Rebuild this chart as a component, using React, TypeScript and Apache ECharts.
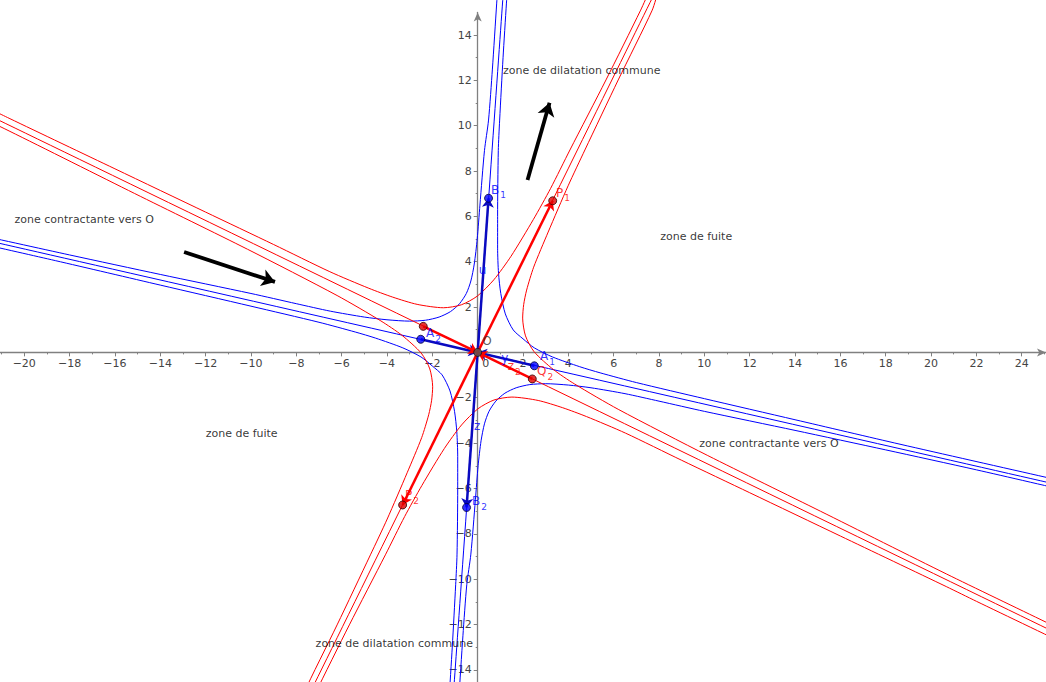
import React, { useEffect, useRef } from 'react';
import * as echarts from 'echarts';

// ---- axis ticks ----
const xMajorTicks = [-20, -18, -16, -14, -12, -10, -8, -6, -4, -2, 0, 2, 4, 6, 8, 10, 12, 14, 16, 18, 20, 22, 24];
const xMinorTicks = [-21, -19, -17, -15, -13, -11, -9, -7, -5, -3, -1, 1, 3, 5, 7, 9, 11, 13, 15, 17, 19, 21, 23, 25];
const yMajorTicks = [-14, -12, -10, -8, -6, -4, -2, 2, 4, 6, 8, 10, 12, 14];
const yMinorTicks = [-13, -11, -9, -7, -5, -3, -1, 1, 3, 5, 7, 9, 11, 13];

// ---- asymptote lines (through O) ----
const blueLineU = [[-1.1, -15.5], [1.16, 16.3]];
const blueLineV = [[-22, 5.02], [26, -5.93]];
const redLineP = [[-7.9, -16.04], [8.0, 16.24]];
const redLineQ = [[-22, 10.67], [26, -12.61]];

// ---- blue hyperbola branches ----
const blueNW = [[-22, 5.18], [-18, 4.3], [-14, 3.44], [-10, 2.6], [-8, 2.15], [-6.5, 1.82], [-5, 1.56], [-4, 1.44], [-3, 1.38], [-2.3, 1.42], [-1.7, 1.56], [-1.2, 1.8], [-0.8, 2.15], [-0.5, 2.6], [-0.3, 3.15], [-0.15, 3.9], [-0.02, 5.0], [0.1, 6.5], [0.3, 8.9], [0.48, 10.25], [0.65, 12.5], [0.84, 15.41], [0.9, 16.3]];
const blueSE = [[-0.9, -16.3], [-0.84, -15.41], [-0.65, -12.5], [-0.48, -10.25], [-0.3, -8.9], [-0.1, -6.5], [0.02, -5.0], [0.15, -3.9], [0.3, -3.15], [0.5, -2.6], [0.8, -2.15], [1.2, -1.8], [1.7, -1.56], [2.3, -1.42], [3, -1.38], [4, -1.44], [5, -1.56], [6.5, -1.82], [8, -2.15], [10, -2.6], [14, -3.44], [18, -4.3], [22, -5.18], [26, -6.1]];
const blueNE = [[1.33, 16.3], [1.27, 15.41], [1.12, 13], [0.97, 10.25], [0.91, 8.9], [0.88, 6.0], [0.88, 4.6], [0.92, 3.5], [1.02, 2.6], [1.22, 1.7], [1.57, 0.99], [2.0, 0.6], [2.5, 0.2], [3.3, -0.2], [4.5, -0.63], [5.4, -0.9], [7, -1.33], [10, -2.04], [14, -2.97], [18.63, -4.05], [25.07, -5.51], [26, -5.72]];
const blueSW = [[-1.33, -16.3], [-1.27, -15.41], [-1.12, -13], [-0.97, -10.25], [-0.91, -8.9], [-0.88, -6.0], [-0.88, -4.6], [-0.92, -3.5], [-1.02, -2.6], [-1.22, -1.7], [-1.57, -0.99], [-2.0, -0.6], [-2.5, -0.2], [-3.3, 0.2], [-4.5, 0.63], [-5.4, 0.9], [-7, 1.33], [-10, 2.04], [-14, 2.97], [-18.63, 4.05], [-25.07, 5.51]];

// ---- red hyperbola branches ----
const redNW = [[-22, 10.98], [-20.67, 10.33], [-16, 8.1], [-12, 6.19], [-9, 4.76], [-6.52, 3.56], [-4.8, 2.83], [-3.75, 2.44], [-2.67, 2.12], [-1.51, 1.97], [-0.72, 2.1], [-0.015, 2.485], [0.71, 3.2], [1.47, 4.24], [2.46, 5.87], [3.22, 7.24], [4.07, 8.93], [5.66, 12.02], [7.19, 15.1], [7.55, 15.9]];
const redSE = [[-7.55, -15.9], [-7.19, -15.1], [-5.66, -12.02], [-4.07, -8.93], [-3.22, -7.24], [-2.46, -5.87], [-1.47, -4.24], [-0.71, -3.2], [0.015, -2.485], [0.72, -2.1], [1.51, -1.97], [2.67, -2.12], [3.75, -2.44], [4.8, -2.83], [6.52, -3.56], [9, -4.76], [12, -6.19], [16, -8.1], [20.67, -10.33], [22, -10.98], [26, -12.9]];
const redNE = [[7.95, 15.9], [7.7, 15.1], [6.2, 12.02], [4.73, 8.93], [3.99, 7.35], [3.11, 5.31], [2.47, 3.76], [2.16, 2.75], [2.03, 2.11], [1.985, 1.515], [2.11, 0.73], [2.49, 0.03], [3.34, -0.755], [4.27, -1.39], [6.2, -2.51], [10.15, -4.55], [15.13, -7.01], [20.67, -9.77], [25.07, -11.9], [26, -12.35]];
const redSW = [[-26, 12.35], [-25.07, 11.9], [-20.67, 9.77], [-15.13, 7.01], [-10.15, 4.55], [-6.2, 2.51], [-4.27, 1.39], [-3.34, 0.755], [-2.49, -0.03], [-2.11, -0.73], [-1.985, -1.515], [-2.03, -2.11], [-2.16, -2.75], [-2.47, -3.76], [-3.11, -5.31], [-3.99, -7.35], [-4.73, -8.93], [-6.2, -12.02], [-7.7, -15.1], [-7.95, -15.9]];

// ---- points ----
const origin = [0, 0];
const B1 = [0.48, 6.8];
const B2 = [-0.49, -6.84];
const A1 = [2.5, -0.59];
const A2 = [-2.51, 0.58];
const P1 = [3.31, 6.69];
const P2 = [-3.31, -6.73];
const Q1 = [-2.4, 1.15];
const Q2 = [2.41, -1.17];

// ---- black direction arrows ----
const arrowUp = [[2.2, 7.61], [3.17, 11.01]];
const arrowRight = [[-12.95, 4.43], [-8.94, 3.11]];

// ---- zone texts ----
const zoneNames = ['zone de dilatation commune', 'zone contractante vers O', 'zone de fuite', 'zone de fuite', 'zone contractante vers O', 'zone de dilatation commune'];
const zoneAnchors = [[1.1, 12.45], [-20.45, 5.88], [8.03, 5.13], [-12.02, -3.56], [9.75, -4.0], [-7.17, -12.82]];

// ---- point labels ----
const pointLabelText = [['B', '1'], ['P', '1'], ['A', '2'], ['A', '1'], ['Q', '2'], ['B', '2'], ['P', '2'], ['u', ''], ['z', ''], ['y', ''], ['z', '2'], ['O', '']];
const pointLabelAnchors = [[0.57, 7.13], [3.43, 7.0], [-2.3, 0.8], [2.73, -0.22], [2.6, -0.88], [-0.27, -6.62], [-3.23, -6.35], [0.03, 3.57], [-0.18, -3.27], [1.02, -0.3], [1.3, -0.66], [0.18, 0.44]];
const pointLabelKinds = ['b', 'r', 'b', 'b', 'r', 'b', 'r', 'b', 'b', 'b', 'r', 'k'];

const BLUE = '#0000ff';
const BLUE_DARK = '#0a0ac0';
const RED = '#ff0000';
const AXIS = '#808080';
const LABEL = '#444444';

// axis placement: origin at (477.7, 352.4) px in a 1046 x 682 canvas
const X_AXIS_OFFSET = -(682 - 352.4);
const Y_AXIS_OFFSET = -477.7;

const minus = (v: number) => (v < 0 ? '\u2212' + String(-v) : String(v));

function curve(data: number[][], color: string) {
  return {
    type: 'line',
    data,
    showSymbol: false,
    symbol: 'none',
    smooth: 0.25,
    clip: false,
    silent: true,
    lineStyle: { color, width: 1 },
    z: 2,
  };
}

function vectors(list: number[][][], color: string, width: number, size: number) {
  return {
    type: 'lines',
    coordinateSystem: 'cartesian2d',
    symbol: ['none', 'arrow'],
    symbolSize: size,
    silent: true,
    lineStyle: { color, width, opacity: 1, curveness: 0 },
    data: list.map((c) => ({ coords: c })),
    z: 4,
  };
}

export default function App() {
  const ref = useRef<HTMLDivElement>(null);
  useEffect(() => {
    if (!ref.current) return;
    const chart = echarts.init(ref.current, undefined, { renderer: 'svg' });
    const colorOf: Record<string, string> = { b: BLUE, r: RED, k: '#333333' };
    const option: any = {
      animation: false,
      textStyle: { fontFamily: 'DejaVu Sans' },
      grid: { left: 0, right: 0, top: 12.4, bottom: 0, containLabel: false, outerBoundsMode: 'none' },
      xAxis: [
        {
          type: 'value', min: -21.07, max: 25.07, position: 'bottom', offset: X_AXIS_OFFSET,
          axisLine: { onZero: false, lineStyle: { color: AXIS, width: 1.3 }, symbol: ['none', 'arrow'], symbolSize: [6, 9] },
          axisTick: { show: true, customValues: xMajorTicks, length: 4, lineStyle: { color: AXIS } },
          axisLabel: {
            customValues: xMajorTicks, color: LABEL, fontSize: 11, margin: 6, hideOverlap: false,
            formatter: (v: number) => (v === 0 ? '{z|0}' : minus(v)),
            rich: { z: { padding: [0, 0, 0, 16], color: LABEL, fontSize: 11 } },
          },
          splitLine: { show: false },
        },
        {
          type: 'value', min: -21.07, max: 25.07, position: 'bottom', offset: X_AXIS_OFFSET,
          axisLine: { onZero: false, show: false },
          axisTick: { show: true, customValues: xMinorTicks, length: 2, lineStyle: { color: AXIS } },
          axisLabel: { show: false },
          splitLine: { show: false },
        },
      ],
      yAxis: [
        {
          type: 'value', min: -14.54, max: 15, position: 'left', offset: Y_AXIS_OFFSET,
          axisLine: { onZero: false, lineStyle: { color: AXIS, width: 1.3 }, symbol: ['none', 'arrow'], symbolSize: [6, 9] },
          axisTick: { show: true, customValues: yMajorTicks, length: 4, lineStyle: { color: AXIS } },
          axisLabel: { customValues: yMajorTicks, color: LABEL, fontSize: 11, margin: 6, hideOverlap: false, formatter: (v: number) => minus(v) },
          splitLine: { show: false },
        },
        {
          type: 'value', min: -14.54, max: 15, position: 'left', offset: Y_AXIS_OFFSET,
          axisLine: { onZero: false, show: false },
          axisTick: { show: true, customValues: yMinorTicks, length: 2, lineStyle: { color: AXIS } },
          axisLabel: { show: false },
          splitLine: { show: false },
        },
      ],
      series: [
        curve(blueLineU, BLUE),
        curve(blueLineV, BLUE),
        curve(blueNW, BLUE),
        curve(blueSE, BLUE),
        curve(blueNE, BLUE),
        curve(blueSW, BLUE),
        curve(redLineP, RED),
        curve(redLineQ, RED),
        curve(redNW, RED),
        curve(redSE, RED),
        curve(redNE, RED),
        curve(redSW, RED),
        vectors([[origin, B1], [origin, B2], [A2, origin], [A1, origin]], BLUE_DARK, 2.5, 9),
        vectors([[origin, P1], [origin, P2], [Q1, origin], [Q2, origin]], RED, 2.5, 9),
        vectors([arrowUp, arrowRight], '#000000', 3.8, 13),
        {
          type: 'scatter', silent: true, symbolSize: 8, z: 6,
          itemStyle: { color: BLUE, borderColor: '#000033', borderWidth: 1 },
          data: [B1, B2, A1, A2],
        },
        {
          type: 'scatter', silent: true, symbolSize: 8, z: 6,
          itemStyle: { color: '#e00000', borderColor: '#330000', borderWidth: 1 },
          data: [P1, P2, Q1, Q2],
        },
        {
          type: 'scatter', silent: true, symbolSize: 8, z: 6,
          itemStyle: { color: '#555555', borderColor: '#111111', borderWidth: 1 },
          data: [origin],
        },
        {
          type: 'scatter', silent: true, symbolSize: 1, z: 7,
          itemStyle: { color: 'rgba(0,0,0,0)' },
          data: zoneAnchors.map((p, i) => ({ value: p, name: zoneNames[i] })),
          label: { show: true, position: 'right', distance: 0, color: '#000000', fontSize: 11, formatter: (p: any) => p.name },
        },
        {
          type: 'scatter', silent: true, symbolSize: 1, z: 7,
          itemStyle: { color: 'rgba(0,0,0,0)' },
          data: pointLabelAnchors.map((p, i) => {
            const c = colorOf[pointLabelKinds[i]];
            const [m, s] = pointLabelText[i];
            return {
              value: p,
              label: {
                show: true, position: 'right', distance: 0,
                formatter: s ? `{m|${m}}{s|${s}}` : `{m|${m}}`,
                rich: {
                  m: { color: c, fontSize: 12, verticalAlign: 'top', lineHeight: 14 },
                  s: { color: c, fontSize: 9, verticalAlign: 'top', lineHeight: 14, padding: [7, 0, 0, 1] },
                },
              },
            };
          }),
        },
      ],
    };
    chart.setOption(option);
    return () => chart.dispose();
  }, []);
  return <div ref={ref} style={{ position: 'absolute', left: 0, top: 0, width: 1046, height: 682, background: '#ffffff' }} />;
}
